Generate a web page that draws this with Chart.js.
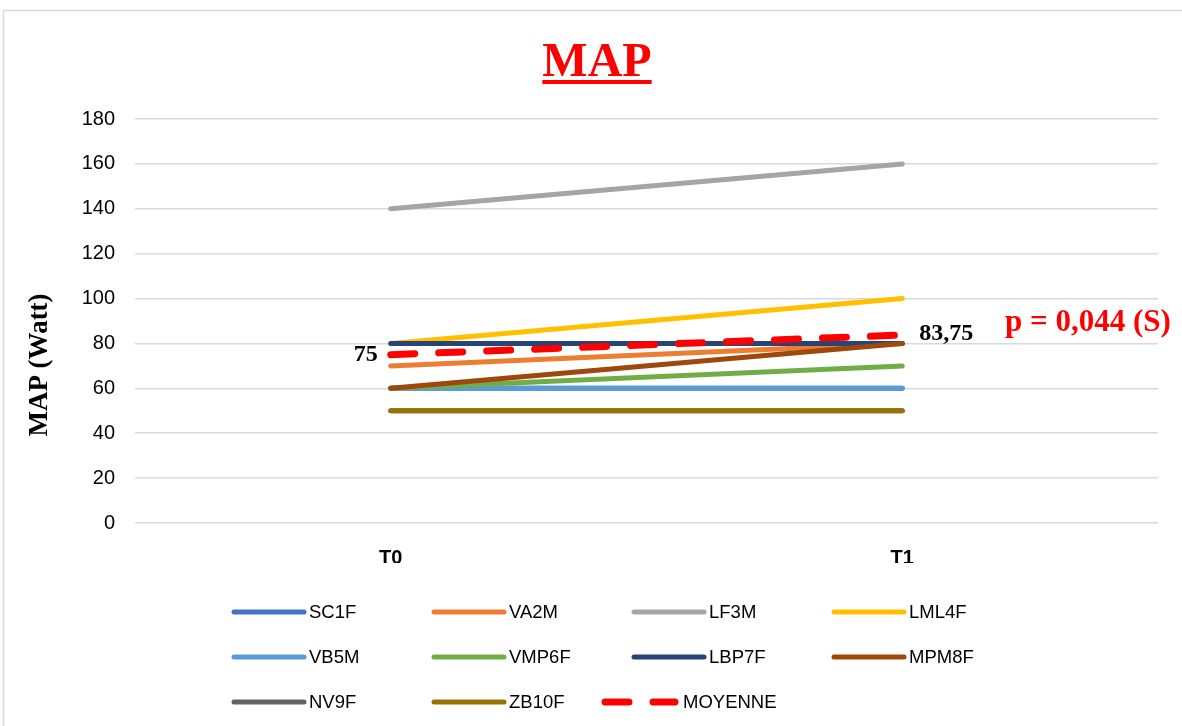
<!DOCTYPE html>
<html>
<head>
<meta charset="utf-8">
<script src="https://cdn.jsdelivr.net/npm/chart.js@4/dist/chart.umd.min.js"></script>
<style>
	html, body { margin: 0; padding: 0; background: #fff; }
	#wrap { width: 1182px; height: 726px; position: relative; }
</style>
</head>
<body>
<div id="wrap"><canvas id="mapChart" width="1182" height="726"></canvas></div>
<script>
const labels = ['T0', 'T1'];
const names = ['SC1F', 'VA2M', 'LF3M', 'LML4F', 'VB5M', 'VMP6F', 'LBP7F', 'MPM8F', 'NV9F', 'ZB10F', 'MOYENNE'];
const SC1F = [60, 60];
const VA2M = [70, 80];
const LF3M = [140, 160];
const LML4F = [80, 100];
const VB5M = [60, 60];
const VMP6F = [60, 70];
const LBP7F = [80, 80];
const MPM8F = [60, 80];
const NV9F = [50, 50];
const ZB10F = [50, 50];
const MOYENNE = [75, 83.75];
const meanLabels = ['75', '83,75'];
const pValue = 'p = 0,044 (S)';
const yTicks = { min: 0, max: 180, step: 20 };

const seriesValues = [SC1F, VA2M, LF3M, LML4F, VB5M, VMP6F, LBP7F, MPM8F, NV9F, ZB10F, MOYENNE];
const colors = ['#4472C4', '#ED7D31', '#A5A5A5', '#FFC000', '#5B9BD5', '#70AD47', '#264478', '#9E480E', '#636363', '#997300', '#FF0000'];
const meanDash = [24, 24];
const legendFont = '18.5px "Liberation Sans"';

const datasets = names.map((name, i) => {
	const isMean = name === 'MOYENNE';
	return {
		label: name,
		data: seriesValues[i],
		borderColor: colors[i],
		backgroundColor: colors[i],
		borderWidth: isMean ? 7 : 5,
		borderDash: isMean ? meanDash : [],
		borderCapStyle: 'round',
		pointRadius: 0,
		tension: 0,
		fill: false,
		// excel draws later series on top
		order: names.length - i
	}
});

const extras = {
	id: 'extras',
	beforeDraw(chart) {
		const ctx = chart.ctx;
		ctx.save();
		ctx.strokeStyle = '#d9d9d9';
		ctx.lineWidth = 1.5;
		ctx.strokeRect(3.5, 10.5, 1300, 800);
		ctx.restore();
	},
	afterDraw(chart) {
		const ctx = chart.ctx;
		const x = chart.scales.x, y = chart.scales.y;
		ctx.save();

		// title
		ctx.fillStyle = '#FF0000';
		ctx.font = 'bold 48px "Liberation Serif"';
		ctx.textAlign = 'center';
		ctx.textBaseline = 'alphabetic';
		const tw = ctx.measureText('MAP').width;
		ctx.fillText('MAP', 597, 76);
		ctx.fillRect(597 - tw / 2, 80, tw, 4);

		// y title
		ctx.save();
		ctx.translate(40, 365);
		ctx.rotate(-Math.PI / 2);
		ctx.fillStyle = '#000';
		ctx.font = 'bold 27px "Liberation Serif"';
		ctx.textBaseline = 'middle';
		ctx.fillText('MAP (Watt)', 0, 0);
		ctx.restore();

		// mean labels
		ctx.fillStyle = '#000';
		ctx.font = 'bold 24px "Liberation Serif"';
		ctx.textBaseline = 'middle';
		ctx.textAlign = 'right';
		ctx.fillText(meanLabels[0], x.getPixelForValue(0) - 13, y.getPixelForValue(MOYENNE[0]));
		ctx.textAlign = 'left';
		ctx.fillText(meanLabels[1], x.getPixelForValue(1) + 17, y.getPixelForValue(MOYENNE[1]) - 1);

		ctx.fillStyle = '#FF0000';
		ctx.font = 'bold 31px "Liberation Serif"';
		ctx.fillText(pValue, 1005, 323);

		// legend, excel style grid
		ctx.font = legendFont;
		ctx.textBaseline = 'middle';
		ctx.textAlign = 'left';
		ctx.lineCap = 'round';
		names.forEach((name, i) => {
			const col = i % 4, row = Math.floor(i / 4);
			const isMean = name === 'MOYENNE';
			const lx = (isMean ? 205 : 234) + col * 200;
			const ly = 612 + row * 45;
			ctx.strokeStyle = colors[i];
			ctx.lineWidth = isMean ? 7 : 5;
			ctx.setLineDash(isMean ? meanDash : []);
			ctx.beginPath();
			ctx.moveTo(lx, ly);
			ctx.lineTo(lx + 70, ly);
			ctx.stroke();
			ctx.fillStyle = '#000';
			ctx.fillText(name, lx + (isMean ? 78 : 75), ly + 1);
		});
		ctx.restore();
	}
};

new Chart('mapChart', {
	type: 'line',
	data: { labels: labels, datasets: datasets },
	options: {
		responsive: false,
		animation: false,
		layout: { padding: { left: 0, right: 24, top: 119, bottom: 163 } },
		plugins: {
			legend: { display: false },
			title: { display: false },
			tooltip: { enabled: false }
		},
		scales: {
			x: {
				offset: true,
				grid: { display: false, drawTicks: false },
				border: { display: false },
				ticks: {
					color: '#000',
					font: { family: 'Liberation Sans', size: 20, weight: 'bold' },
					padding: 23
				},
				afterFit: (scale) => { scale.height = 40 }
			},
			y: {
				min: yTicks.min,
				max: yTicks.max,
				grid: { color: '#d9d9d9', lineWidth: 1.5, drawTicks: false },
				border: { display: false },
				ticks: {
					stepSize: yTicks.step,
					color: '#000',
					font: { family: 'Liberation Sans', size: 20 },
					padding: 20
				},
				afterFit: (scale) => { scale.width = 135 }
			}
		}
	},
	plugins: [extras]
});
</script>
</body>
</html>
